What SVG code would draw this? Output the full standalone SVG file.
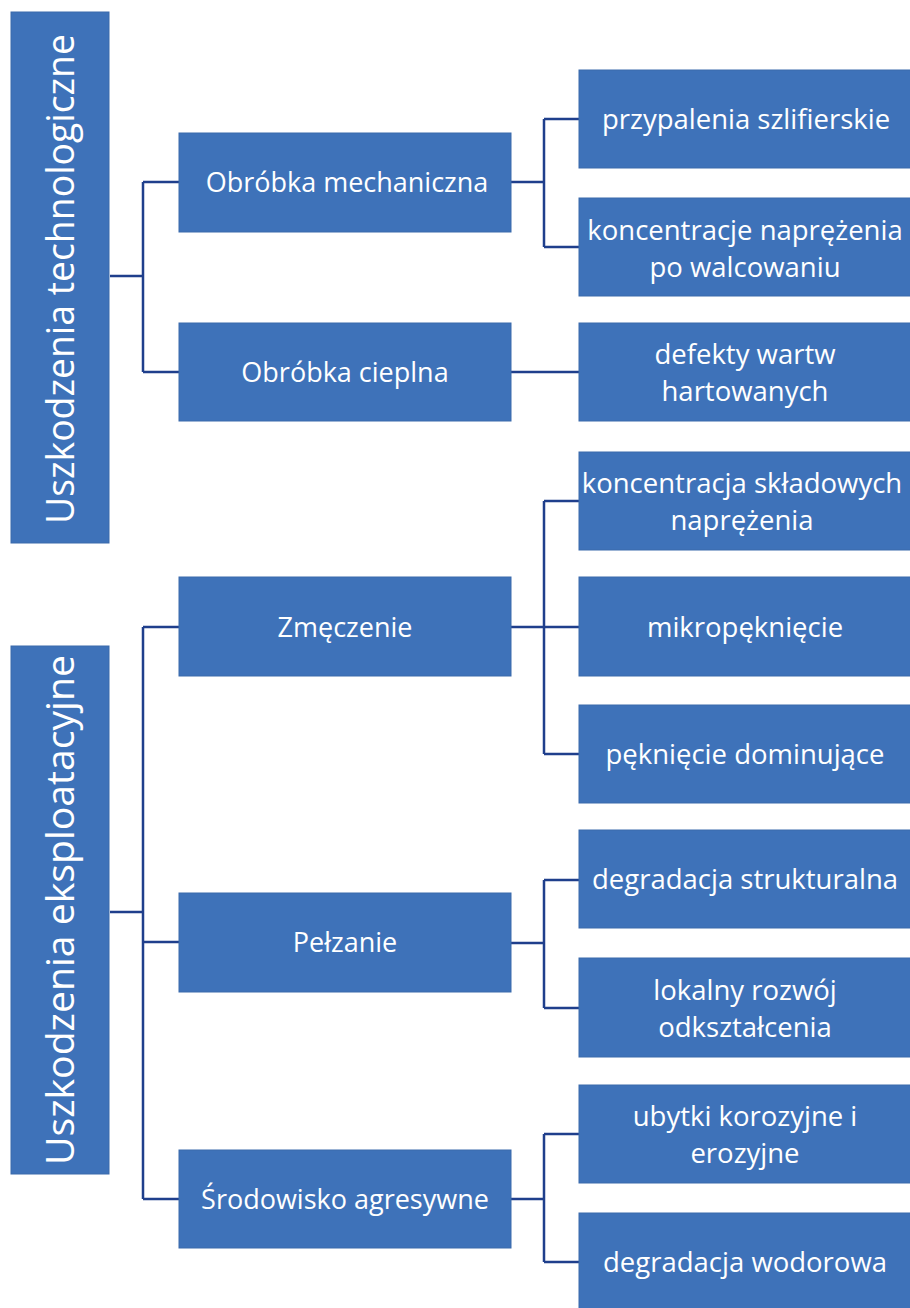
<svg xmlns="http://www.w3.org/2000/svg" width="910" height="1308" viewBox="0 0 910 1308">
<style>
  .box { fill: #3e72b9; stroke: #3a6aab; stroke-width: 1; }
  .t { fill: #ffffff; font-family: "Open Sans", "Noto Sans", sans-serif; font-size: 27px; text-anchor: middle; }
  .t3 { fill: #ffffff; font-family: "Open Sans", "Noto Sans", sans-serif; font-size: 27.5px; text-anchor: middle; }
  .tv { fill: #ffffff; font-family: "Open Sans", "Noto Sans", sans-serif; font-size: 38px; text-anchor: middle; }
  .c { fill: none; stroke: #1f3f8c; stroke-width: 2.5; }
</style>
<rect width="910" height="1308" fill="#ffffff"/>

<g id="connectors">
  <path class="c" d="M110 276 H143 M143 182 V372 M143 182 H179 M143 372 H179"/>
  <path class="c" d="M110 912 H143 M143 627 V1199 M143 627 H179 M143 942 H179 M143 1199 H179"/>
  <path class="c" d="M511 182 H544 M544 119 V247 M544 119 H579 M544 247 H579"/>
  <path class="c" d="M511 372 H579"/>
  <path class="c" d="M511 627 H579 M544 501 V754 M544 501 H579 M544 754 H579"/>
  <path class="c" d="M511 943 H544 M544 880 V1008 M544 880 H579 M544 1008 H579"/>
  <path class="c" d="M511 1199 H544 M544 1134 V1262 M544 1134 H579 M544 1262 H579"/>
</g>

<g id="uszkodzenia-technologiczne">
  <rect class="box" x="11" y="12" width="98" height="531"/>
  <text class="tv" transform="translate(74,279) rotate(-90)" textLength="490" lengthAdjust="spacingAndGlyphs">Uszkodzenia technologiczne</text>
</g>
<g id="uszkodzenia-eksploatacyjne">
  <rect class="box" x="11" y="646" width="98" height="528"/>
  <text class="tv" transform="translate(74,910) rotate(-90)" textLength="510" lengthAdjust="spacingAndGlyphs">Uszkodzenia eksploatacyjne</text>
</g>

<g id="obrobka-mechaniczna">
  <rect class="box" x="179" y="133" width="332" height="99"/>
  <text class="t" x="347" y="192">Obróbka mechaniczna</text>
</g>
<g id="obrobka-cieplna">
  <rect class="box" x="179" y="323" width="332" height="98"/>
  <text class="t" x="345" y="382">Obróbka cieplna</text>
</g>
<g id="zmeczenie">
  <rect class="box" x="179" y="577" width="332" height="99"/>
  <text class="t" x="345" y="637">Zmęczenie</text>
</g>
<g id="pelzanie">
  <rect class="box" x="179" y="893" width="332" height="99"/>
  <text class="t" x="345" y="952">Pełzanie</text>
</g>
<g id="srodowisko-agresywne">
  <rect class="box" x="179" y="1150" width="332" height="98"/>
  <text class="t" x="345" y="1209">Środowisko agresywne</text>
</g>

<g id="przypalenia-szlifierskie">
  <rect class="box" x="579" y="70" width="332" height="98"/>
  <text class="t3" x="746" y="129">przypalenia szlifierskie</text>
</g>
<g id="koncentracje-naprezenia">
  <rect class="box" x="579" y="198" width="332" height="98"/>
  <text class="t3" x="745" y="240">koncentracje naprężenia</text>
  <text class="t3" x="745" y="277">po walcowaniu</text>
</g>
<g id="defekty-wartw">
  <rect class="box" x="579" y="323" width="332" height="98"/>
  <text class="t3" x="745" y="364">defekty wartw</text>
  <text class="t3" x="745" y="401">hartowanych</text>
</g>
<g id="koncentracja-skladowych">
  <rect class="box" x="579" y="452" width="332" height="98"/>
  <text class="t3" x="742" y="493">koncentracja składowych</text>
  <text class="t3" x="742" y="530">naprężenia</text>
</g>
<g id="mikropekniecie">
  <rect class="box" x="579" y="577" width="332" height="99"/>
  <text class="t3" x="745" y="637">mikropęknięcie</text>
</g>
<g id="pekniecie-dominujace">
  <rect class="box" x="579" y="705" width="332" height="98"/>
  <text class="t3" x="745" y="764">pęknięcie dominujące</text>
</g>
<g id="degradacja-strukturalna">
  <rect class="box" x="579" y="830" width="332" height="98"/>
  <text class="t3" x="745" y="889">degradacja strukturalna</text>
</g>
<g id="lokalny-rozwoj">
  <rect class="box" x="579" y="958" width="332" height="99"/>
  <text class="t3" x="745" y="1000">lokalny rozwój</text>
  <text class="t3" x="745" y="1037">odkształcenia</text>
</g>
<g id="ubytki-korozyjne">
  <rect class="box" x="579" y="1085" width="332" height="98"/>
  <text class="t3" x="745" y="1126">ubytki korozyjne i</text>
  <text class="t3" x="745" y="1163">erozyjne</text>
</g>
<g id="degradacja-wodorowa">
  <rect class="box" x="579" y="1213" width="332" height="98"/>
  <text class="t3" x="745" y="1272">degradacja wodorowa</text>
</g>
</svg>
